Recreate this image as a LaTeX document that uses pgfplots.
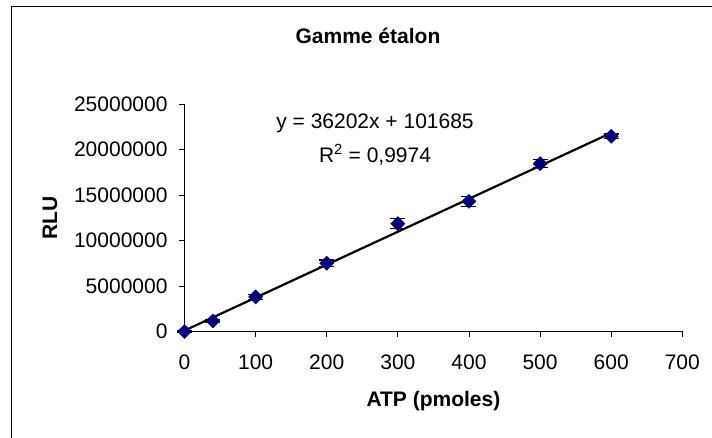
\documentclass[border=0pt]{standalone}
\usepackage{fontspec}
\setmainfont{Liberation Sans}
\usepackage{pgfplots}
\usepackage{pgfplotstable}
\pgfplotsset{compat=1.18}
\definecolor{navy}{HTML}{000080}
\pgfplotstableread{
x y e
0 0 50000
40 1160000 200000
100 3800000 300000
200 7500000 350000
300 11850000 550000
400 14300000 550000
500 18450000 450000
600 21450000 250000
}\datatable
\newcommand{\bigf}{\fontsize{21bp}{25bp}\selectfont}
\begin{document}
\begin{tikzpicture}[x=1bp,y=1bp]
\useasboundingbox (0,0) rectangle (712,438);
\draw[line width=1bp] (11,0) -- (11,431) -- (712,431);
\begin{axis}[
  at={(184.5bp,106.5bp)}, anchor=south west,
  scale only axis, width=497.8bp, height=227.5bp,
  xmin=0, xmax=700, ymin=0, ymax=25000000,
  xtick={0,100,200,300,400,500,600,700},
  ytick={0,5000000,10000000,15000000,20000000,25000000},
  axis x line=bottom, axis y line=left,
  axis line style={-, line width=0.8bp},
  tick align=outside, major tick length=5.5bp,
  tick style={black, line width=0.8bp},
  scaled y ticks=false,
  /pgf/number format/assume math mode=true,
  ticklabel style={font=\bigf},
  xticklabel style={yshift=-14bp},
  yticklabel style={xshift=-8bp, /pgf/number format/fixed, /pgf/number format/1000 sep={}},
  clip=false,
  title={Gamme étalon},
  title style={at={(axis description cs:0.3686,1.275)}, anchor=center, font=\bfseries\bigf},
  xlabel={ATP (pmoles)},
  xlabel style={at={(axis description cs:0.5,-0.307)}, anchor=center, font=\bfseries\bigf},
  ylabel={RLU},
  ylabel style={at={(axis description cs:-0.27,0.5)}, anchor=center, font=\bfseries\bigf},
]
\addplot[only marks, mark=square*, mark size=5bp,
  mark options={rotate=45, fill=navy, draw=navy!80!black},
  error bars/.cd, y dir=both, y explicit, error mark=|,
  error bar style={black, line width=1.2bp},
  error mark options={black, mark size=7.5bp, line width=1.2bp}]
  table[x=x, y=y, y error=e] {\datatable};
\addplot[black, line width=2.2bp] coordinates {(0,101685) (600,21822885)};
\node[font=\bigf] at (axis description cs:0.3827,0.9165) {y = 36202x + 101685};
\node[font=\bigf] at (axis description cs:0.3827,0.776) {R\textsuperscript{2} = 0,9974};
\end{axis}
\end{tikzpicture}
\end{document}
